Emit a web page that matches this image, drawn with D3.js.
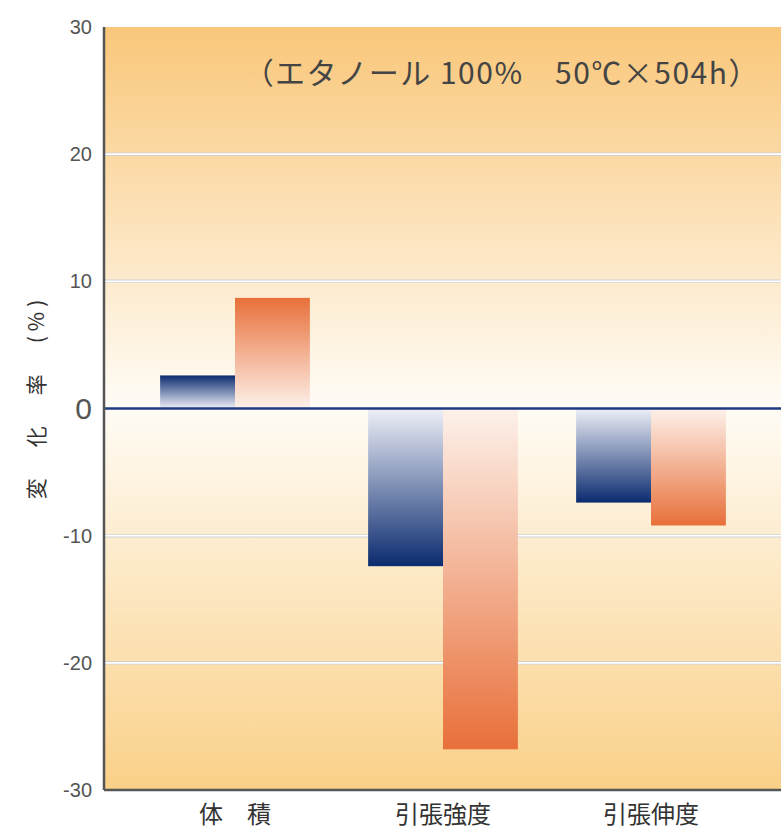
<!DOCTYPE html>
<html>
<head>
<meta charset="utf-8">
<script src="https://cdn.jsdelivr.net/npm/d3@7"></script>
<style>
  body { margin: 0; background: #fff; }
  svg { display: block; }
</style>
</head>
<body>
<div id="chart"></div>
<script>
// chart data
const categories = ['体　積', '引張強度', '引張伸度'];
const seriesNames = ['blue', 'orange'];
const blueValues = [2.6, -12.4, -7.4];
const orangeValues = [8.7, -26.8, -9.2];
const yTicks = [30, 20, 10, 0, -10, -20, -30];
const gridTicks = [20, 10, -10, -20];
const note = '（エタノール 100%　50℃×504h）';
const yLabel = '変　化　率　(%)';

const width = 781, height = 832;
const plotLeft = 104, plotRight = 781, plotTop = 27, plotBottom = 790;

const svg = d3.select('#chart').append('svg')
  .attr('width', width)
  .attr('height', height);

const defs = svg.append('defs');

// background gradient
const bg = defs.append('linearGradient').attr('id', 'bg')
  .attr('x1', 0).attr('y1', 0).attr('x2', 0).attr('y2', 1);
bg.append('stop').attr('offset', '0%').attr('stop-color', '#f9c77a');
bg.append('stop').attr('offset', '49.5%').attr('stop-color', '#fffcf6');
bg.append('stop').attr('offset', '100%').attr('stop-color', '#fad088');

const yScale = d3.scaleLinear().domain([-30, 30]).range([plotBottom, plotTop]);
const xScale = d3.scaleBand().domain(categories).range([131, 755]).paddingInner(0.28).paddingOuter(0.14);
const xSub = d3.scaleBand().domain(seriesNames).range([0, xScale.bandwidth()]);

const colors = {
  blue: { dark: '#0b2b6f', light: '#eef0f8' },
  orange: { dark: '#e8703a', light: '#fdf1ea' }
};

// gradients: light at zero, dark at the value end
['blue', 'orange'].forEach(s => {
  ['pos', 'neg'].forEach(dir => {
    const g = defs.append('linearGradient').attr('id', s + '-' + dir)
      .attr('x1', 0).attr('x2', 0)
      .attr('y1', dir === 'pos' ? 1 : 0).attr('y2', dir === 'pos' ? 0 : 1);
    g.append('stop').attr('offset', '0%').attr('stop-color', colors[s].light);
    g.append('stop').attr('offset', '100%').attr('stop-color', colors[s].dark);
  });
});

svg.append('rect')
  .attr('x', plotLeft).attr('y', plotTop)
  .attr('width', plotRight - plotLeft).attr('height', plotBottom - plotTop)
  .attr('fill', 'url(#bg)');

// grid lines
const grid = svg.append('g');
grid.selectAll('line.g1').data(gridTicks).enter().append('line')
  .attr('x1', plotLeft).attr('x2', plotRight)
  .attr('y1', d => yScale(d)).attr('y2', d => yScale(d))
  .attr('stroke', '#cfcfcf').attr('stroke-width', 3.5);
grid.selectAll('line.g2').data(gridTicks).enter().append('line')
  .attr('x1', plotLeft).attr('x2', plotRight)
  .attr('y1', d => yScale(d)).attr('y2', d => yScale(d))
  .attr('stroke', '#ffffff').attr('stroke-width', 1.8);

// bars
const rows = categories.map((c, i) => ({ cat: c, blue: blueValues[i], orange: orangeValues[i] }));
const groups = svg.append('g').selectAll('g').data(rows).enter().append('g')
  .attr('transform', d => `translate(${xScale(d.cat)},0)`);
groups.selectAll('rect').data(d => seriesNames.map(s => ({ s, v: d[s] }))).enter().append('rect')
  .attr('x', d => xSub(d.s))
  .attr('width', xSub.bandwidth())
  .attr('y', d => yScale(Math.max(0, d.v)))
  .attr('height', d => Math.abs(yScale(d.v) - yScale(0)))
  .attr('fill', d => `url(#${d.s}-${d.v >= 0 ? 'pos' : 'neg'})`);

// zero line
svg.append('line')
  .attr('x1', plotLeft).attr('x2', plotRight)
  .attr('y1', yScale(0)).attr('y2', yScale(0))
  .attr('stroke', '#1d3a80').attr('stroke-width', 2.5);

// axes
svg.append('line')
  .attr('x1', plotLeft).attr('x2', plotLeft).attr('y1', plotTop).attr('y2', plotBottom)
  .attr('stroke', '#555').attr('stroke-width', 2.5);
svg.append('line')
  .attr('x1', plotLeft).attr('x2', plotRight).attr('y1', plotBottom).attr('y2', plotBottom)
  .attr('stroke', '#555').attr('stroke-width', 2.5);

const yAxis = svg.append('g')
  .attr('transform', `translate(${plotLeft},0)`)
  .call(d3.axisLeft(yScale).tickValues(yTicks).tickFormat(d => String(d)).tickSize(0).tickPadding(12));
yAxis.select('.domain').remove();
yAxis.selectAll('text')
  .attr('fill', '#555')
  .style('font-family', 'Liberation Sans, Arial, sans-serif')
  .style('font-size', d => d === 0 ? '30px' : '20px');

const xAxis = svg.append('g')
  .attr('transform', `translate(0,${plotBottom})`)
  .call(d3.axisBottom(xScale).tickSize(0).tickPadding(16));
xAxis.select('.domain').remove();
xAxis.selectAll('text')
  .attr('fill', '#333')
  .style('font-family', 'Noto Sans CJK JP, sans-serif')
  .style('font-size', '24px');

// y label
svg.append('text')
  .attr('transform', `translate(44,397) rotate(-90)`)
  .attr('text-anchor', 'middle')
  .attr('fill', '#333')
  .style('font-family', 'Noto Sans CJK JP, sans-serif')
  .style('font-size', '21px')
  .style('letter-spacing', '5px')
  .text(yLabel);

// note
svg.append('text')
  .attr('x', 760).attr('y', 84)
  .attr('text-anchor', 'end')
  .attr('fill', '#444')
  .style('font-family', 'Noto Sans CJK JP, sans-serif')
  .style('font-size', '30px')
  .style('letter-spacing', '1.5px')
  .text(note);
</script>
</body>
</html>
